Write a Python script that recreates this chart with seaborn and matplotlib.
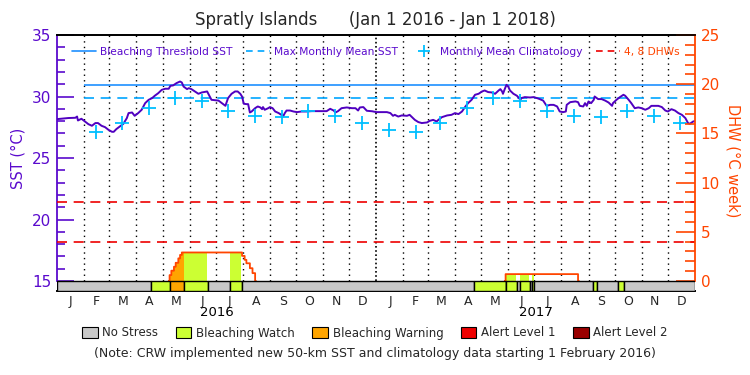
import numpy as np
import pandas as pd
import matplotlib
matplotlib.use("Agg")
import matplotlib.pyplot as plt
import matplotlib.transforms as mtransforms
from matplotlib.lines import Line2D
from matplotlib.patches import Patch
import seaborn as sns

# --- datos (dias desde 1 ene 2016) ---
sst_day = [0, 13, 21, 23, 24, 28, 32, 36, 40, 44, 47, 51, 55, 59, 63, 65, 68, 72, 76, 80,
           82, 86, 89, 93, 97, 101, 105, 109, 112, 116, 120, 124, 128, 130, 133, 137, 141, 143, 145, 149,
           151, 154, 158, 162, 166, 172, 175, 177, 181, 185, 189, 193, 194, 196, 200, 204, 207, 210, 212, 214,
           217, 219, 221, 223, 227, 230, 233, 235, 236, 238, 242, 244, 247, 250, 254, 257, 259, 261, 263, 267,
           271, 275, 280, 286, 292, 296, 303, 309, 313, 317, 319, 322, 326, 332, 338, 342, 345, 347, 351, 355,
           361, 366, 378, 382, 385, 387, 391, 395, 401, 404, 406, 410, 414, 418, 424, 427, 431, 435, 437, 441,
           447, 452, 456, 460, 464, 468, 471, 475, 479, 483, 487, 490, 494, 498, 502, 506, 508, 510, 511, 513,
           515, 517, 519, 523, 527, 531, 532, 536, 542, 546, 550, 553, 557, 561, 565, 569, 573, 576, 580, 583,
           584, 588, 594, 597, 599, 603, 605, 607, 609, 612, 615, 616, 620, 624, 628, 632, 636, 637, 641, 645,
           649, 651, 655, 658, 662, 666, 670, 674, 678, 681, 689, 693, 697, 700, 704, 708, 712, 716, 720, 723,
           725, 729, 731]
sst_val = [28.16, 28.25, 28.27, 28.37, 28.05, 28.19, 27.97, 27.75, 27.62, 27.84, 27.84, 27.62, 27.51, 27.29, 27.13, 27.13, 27.35, 27.56, 27.78, 28.24,
           28.65, 28.70, 28.43, 28.65, 28.92, 29.46, 29.73, 29.87, 30.06, 30.27, 30.54, 30.63, 30.63, 30.87, 30.90, 31.09, 31.22, 31.14, 30.81, 30.60,
           30.68, 30.60, 30.41, 30.22, 30.33, 30.41, 30.00, 29.73, 29.70, 29.67, 29.46, 29.24, 29.46, 29.87, 30.22, 30.41, 30.41, 30.22, 30.00, 29.41,
           29.38, 29.38, 28.70, 28.78, 29.05, 29.19, 29.11, 28.97, 29.14, 28.92, 29.05, 29.14, 29.05, 28.78, 28.65, 28.51, 28.37, 28.65, 28.86, 28.86,
           28.78, 28.73, 28.78, 28.78, 28.81, 28.81, 28.81, 28.81, 29.00, 28.86, 28.70, 28.81, 29.05, 29.11, 29.05, 29.05, 28.86, 29.11, 29.14, 28.84,
           28.80, 28.73, 28.73, 28.65, 28.43, 28.51, 28.37, 28.46, 28.43, 28.51, 28.37, 28.10, 27.92, 27.84, 27.89, 28.02, 28.10, 27.97, 28.10, 28.32,
           28.46, 28.51, 28.65, 28.57, 28.78, 29.19, 29.46, 29.73, 30.14, 30.22, 30.41, 30.49, 30.36, 30.33, 30.22, 30.49, 30.60, 30.41, 30.22, 30.60,
           30.95, 30.81, 30.49, 30.22, 30.06, 29.73, 29.87, 29.95, 29.92, 29.95, 29.87, 29.79, 29.67, 29.24, 29.32, 29.32, 29.19, 28.78, 28.73, 28.78,
           29.32, 29.54, 29.60, 29.54, 29.24, 29.19, 29.46, 29.24, 29.60, 29.46, 29.73, 30.00, 29.79, 29.79, 29.67, 29.51, 29.24, 29.46, 29.73, 29.95,
           30.14, 30.06, 29.73, 29.46, 29.05, 29.11, 29.05, 28.92, 29.05, 29.24, 29.24, 29.14, 28.86, 28.78, 28.97, 28.86, 28.65, 28.51, 28.24, 27.84,
           27.78, 27.97, 28.00]

# climatologia mensual, feb 2016 - dic 2017
clim_val = [27.1, 27.85, 29.1, 29.85, 29.6, 28.8, 28.4, 28.35, 28.8, 28.4, 27.85,
            27.3, 27.1, 27.85, 29.1, 29.85, 29.6, 28.8, 28.4, 28.35, 28.8, 28.4, 27.85]

mmm_sst = 29.9
threshold_sst = 30.9
dhw_lines = [4, 8]

# DHW (escalones)
dhw_day = [0, 129, 131, 134, 136, 139, 141, 143, 212, 215, 217, 221, 224, 227, 514, 597]
dhw_val = [0, 0.6, 1.05, 1.45, 1.85, 2.3, 2.65, 2.9, 2.55, 2.15, 1.8, 1.3, 0.8, 0, 0.7, 0]

# nivel de estres: 0 sin estres, 1 watch, 2 warning, 3 alert 1, 4 alert 2
stress_start = [0, 108, 129, 146, 173, 198, 212, 478, 514, 515, 527, 530, 542, 544, 547, 614, 619, 643, 650]
stress_end = [108, 129, 146, 173, 198, 212, 478, 514, 515, 527, 530, 542, 544, 547, 614, 619, 643, 650, 731]
stress_level = [0, 1, 2, 1, 0, 1, 0, 1, 2, 1, 0, 1, 0, 1, 0, 1, 0, 1, 0]

stress_names = ["No Stress", "Bleaching Watch", "Bleaching Warning", "Alert Level 1", "Alert Level 2"]
stress_colors = ["#C8C8C8", "#CCFF33", "#FFA500", "#EE0000", "#990000"]
month_letters = list("JFMAMJJASOND")
year_labels = ["2016", "2017"]

PURPLE = "#5A0ACD"
SSTLINE = "#5000C0"
ORANGE = "#FF4500"

# === figura ===
sns.set_theme(style="white")
plt.rcParams["font.family"] = ["DejaVu Sans"]
plt.rcParams["ytick.direction"] = "in"
plt.rcParams["ytick.left"] = True
plt.rcParams["ytick.right"] = True

fig = plt.figure(figsize=(7.5, 3.75), dpi=100)
ax = fig.add_axes([57 / 750, 1 - 290.5 / 375, 638 / 750, 255.5 / 375])
ax2 = ax.twinx()

t0 = pd.Timestamp("2016-01-01")
month_starts = pd.date_range("2016-01-01", "2018-01-01", freq="MS")
start_days = np.array((month_starts - t0).days)
mid_days = (start_days[:-1] + start_days[1:]) / 2
clim_day = np.array((pd.date_range("2016-02-01", periods=len(clim_val), freq="MS") - t0).days) + 14

sst_min = 15 - 9.5 / 12.3
ax.set_xlim(0, 731)
ax.set_ylim(sst_min, 35)
ax2.set_ylim((sst_min - 15) * 1.25, 25)

# lineas de meses
for d in start_days[1:-1]:
    heavy = d == 366
    ax.vlines(d, 15, 35, color="black", lw=1.2 if heavy else 1.0,
              linestyles=(0, (1, 1.5)) if heavy else (0, (1, 3)), zorder=1)

ax.hlines(threshold_sst, 31, 731, color="#1E90FF", lw=1.2, zorder=2)
ax.hlines(mmm_sst, 31, 731, color="#00A5FF", lw=1.2, linestyles=(0, (6, 4)), zorder=2)

sns.lineplot(x=sst_day, y=sst_val, ax=ax, color=SSTLINE, lw=1.4, zorder=4)
sns.scatterplot(x=clim_day, y=clim_val, ax=ax, marker="+", s=90, color="#00BFFF",
                linewidth=1.3, zorder=5)

# DHW y barra de estres
for lvl in dhw_lines:
    ax2.hlines(lvl, 0, 731, color="#EE0000", lw=1.2, linestyles=(0, (6, 4)), zorder=2)

days = np.arange(0, 732)
dhw_daily = np.array(dhw_val)[np.searchsorted(dhw_day, days, side="right") - 1]
lvl_daily = np.array(stress_level)[np.searchsorted(stress_start, days, side="right") - 1]
for k in range(1, 5):
    mask = lvl_daily == k
    if mask.any():
        ax2.fill_between(days, 0, dhw_daily, where=mask, step="post",
                         color=stress_colors[k], lw=0, zorder=2)

# la linea DHW solo donde hay acumulacion
dhw_line = dhw_daily.astype(float)
keep = (dhw_daily > 0) | (np.roll(dhw_daily, 1) > 0) | (np.roll(dhw_daily, -1) > 0)
dhw_line[~keep] = np.nan
ax2.step(days, dhw_line, where="post", color=ORANGE, lw=1.3, zorder=3)

bar_bottom = (sst_min - 15) * 1.25
for s, e, k in zip(stress_start, stress_end, stress_level):
    ax2.bar(s, -bar_bottom, width=e - s, bottom=bar_bottom, align="edge",
            color=stress_colors[k], edgecolor="black", lw=1.0, zorder=4)

# ejes
for a in (ax, ax2):
    a.grid(False)
    a.spines["top"].set_color("black")
    a.spines["bottom"].set_color("black")
ax.spines["left"].set_color(PURPLE)
ax.spines["left"].set_linewidth(1.3)
ax.spines["left"].set_bounds(15, 35)
ax.spines["right"].set_visible(False)
ax2.spines["left"].set_visible(False)
ax2.spines["right"].set_color(ORANGE)
ax2.spines["right"].set_linewidth(1.3)
ax2.spines["right"].set_bounds(0, 25)

ax.set_yticks([15, 20, 25, 30, 35])
ax.set_yticks(np.arange(16, 35), minor=True)
ax.tick_params(axis="y", which="both", direction="in", left=True, right=False, color=PURPLE, width=1.2)
ax.tick_params(axis="y", which="major", length=12, labelcolor=PURPLE, labelsize=11, pad=4)
ax.tick_params(axis="y", which="minor", length=6)

ax2.set_yticks([0, 5, 10, 15, 20, 25])
ax2.set_yticks(np.arange(1, 25), minor=True)
ax2.tick_params(axis="y", which="both", direction="in", right=True, left=False, color=ORANGE, width=1.2)
ax2.tick_params(axis="y", which="major", length=14, labelcolor=ORANGE, labelsize=11, pad=4)
ax2.tick_params(axis="y", which="minor", length=7)

ax.set_xticks(mid_days)
ax.set_xticklabels(month_letters * 2)
ax.tick_params(axis="x", length=0, labelsize=9, pad=3)
ax.set_xlabel("")
ax.set_ylabel("")

trans = mtransforms.blended_transform_factory(ax.transData, ax.transAxes)
for i, yl in enumerate(year_labels):
    ax.text((start_days[12 * i] + start_days[12 * i + 12]) / 2, -0.088, yl,
            transform=trans, ha="center", va="center", fontsize=9.5, color="black")

# textos
fig.text(0.5, 1 - 20 / 375, "Spratly Islands      (Jan 1 2016 - Jan 1 2018)",
         ha="center", va="center", fontsize=12)
fig.text(18 / 750, 1 - 158 / 375, "SST (°C)", rotation=90, ha="center", va="center",
         fontsize=10.5, color=PURPLE)
fig.text(733 / 750, 1 - 161 / 375, "DHW (°C week)", rotation=270, ha="center", va="center",
         fontsize=10.5, color=ORANGE)

top_handles = [
    Line2D([], [], color="#1E90FF", lw=1.2),
    Line2D([], [], color="#00A5FF", lw=1.2, ls=(0, (4, 3))),
    Line2D([], [], color="#00BFFF", marker="+", ls="none", ms=8, mew=1.3),
    Line2D([], [], color="#EE0000", lw=1.2, ls=(0, (4, 3))),
]
top_labels = ["Bleaching Threshold SST", "Max Monthly Mean SST", "Monthly Mean Climatology", "4, 8 DHWs"]
ax2.legend(top_handles, top_labels, loc="upper center", bbox_to_anchor=(0.5, 0.99), ncol=4,
           frameon=False, fontsize=7.7, handlelength=2.2, handletextpad=0.4, columnspacing=1.3,
           labelcolor=[PURPLE, PURPLE, PURPLE, ORANGE])

bottom_handles = [Patch(facecolor=c, edgecolor="black", lw=0.8) for c in stress_colors]
fig.legend(bottom_handles, stress_names, loc="center", bbox_to_anchor=(0.5, 1 - 333 / 375),
           ncol=5, frameon=False, fontsize=8.5, handlelength=1.3, handleheight=1.0,
           handletextpad=0.4, columnspacing=1.5)
fig.text(0.5, 1 - 354 / 375,
         "(Note: CRW implemented new 50-km SST and climatology data starting 1 February 2016)",
         ha="center", va="center", fontsize=9)

fig.savefig("out.png", dpi=100)
